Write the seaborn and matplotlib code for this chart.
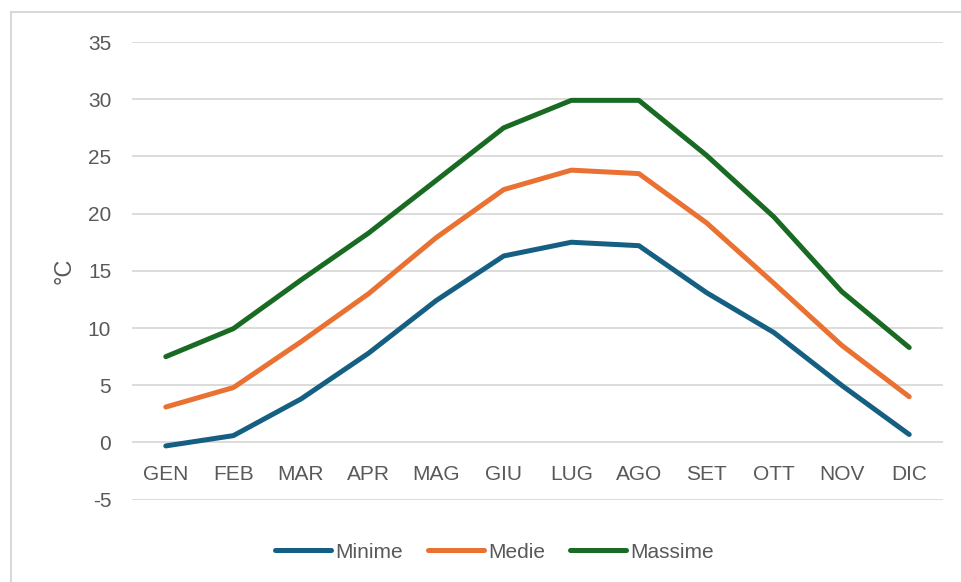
import matplotlib
matplotlib.use("Agg")
import matplotlib.pyplot as plt
from matplotlib.patches import Rectangle
import seaborn as sns
import pandas as pd

mesi = ["GEN", "FEB", "MAR", "APR", "MAG", "GIU", "LUG", "AGO", "SET", "OTT", "NOV", "DIC"]
minime = [-0.3, 0.6, 3.8, 7.8, 12.4, 16.3, 17.5, 17.2, 13.1, 9.6, 5.0, 0.7]
medie = [3.1, 4.8, 8.8, 13.0, 17.9, 22.1, 23.8, 23.5, 19.2, 13.9, 8.5, 4.0]
massime = [7.5, 9.95, 14.2, 18.3, 22.9, 27.5, 29.9, 29.9, 25.1, 19.7, 13.2, 8.3]
serie = ["Minime", "Medie", "Massime"]
colori = ["#156082", "#E97132", "#196B24"]

df = pd.DataFrame({
    "mese": mesi * 3,
    "valore": minime + medie + massime,
    "serie": [s for s in serie for _ in mesi],
})

sns.set_theme(style="white")
plt.rcParams["font.family"] = ["Liberation Sans", "DejaVu Sans"]
plt.rcParams["axes.unicode_minus"] = False
testo = "#595959"

fig = plt.figure(figsize=(9.61, 5.82), dpi=100)
fig.patches.append(Rectangle((11 / 961, -0.1), 1.2, 1 - 12 / 582 + 0.1,
                             transform=fig.transFigure, fill=False,
                             edgecolor="#D9D9D9", linewidth=1.5))
ax = fig.add_axes([132 / 961, 1 - 499.7 / 582, (943 - 132) / 961, (499.7 - 42) / 582])

sns.lineplot(data=df, x="mese", y="valore", hue="serie", palette=colori,
             sort=False, linewidth=3.6, ax=ax, legend=True)
for ln in ax.lines:
    ln.set_solid_capstyle("round")
    ln.set_solid_joinstyle("round")

ax.set_xlim(-0.5, 11.5)
ax.set_ylim(-5, 35)
ax.set_yticks(range(-5, 36, 5))
ax.yaxis.grid(True, color="#D9D9D9", linewidth=1.3)
ax.set_axisbelow(True)
for s in ["top", "right", "left"]:
    ax.spines[s].set_visible(False)
ax.spines["bottom"].set_position(("data", 0))
ax.spines["bottom"].set_visible(False)
ax.tick_params(axis="x", length=0, pad=16.5, labelsize=15, labelcolor=testo)
ax.tick_params(axis="y", length=0, pad=15, labelsize=15, labelcolor=testo)
ax.set_xlabel("")
ax.set_ylabel("°C", color=testo, fontsize=17)
ax.yaxis.set_label_coords(-0.069, 0.5)

ax.legend_.remove()
fig.legend(handles=ax.lines[:3], labels=serie, loc="center",
           bbox_to_anchor=(494.5 / 961, 1 - 552 / 582), ncol=3, frameon=False,
           fontsize=15, handlelength=2.7, handletextpad=0.2, columnspacing=1.2,
           labelcolor=testo)

fig.savefig("out.png", dpi=100)
